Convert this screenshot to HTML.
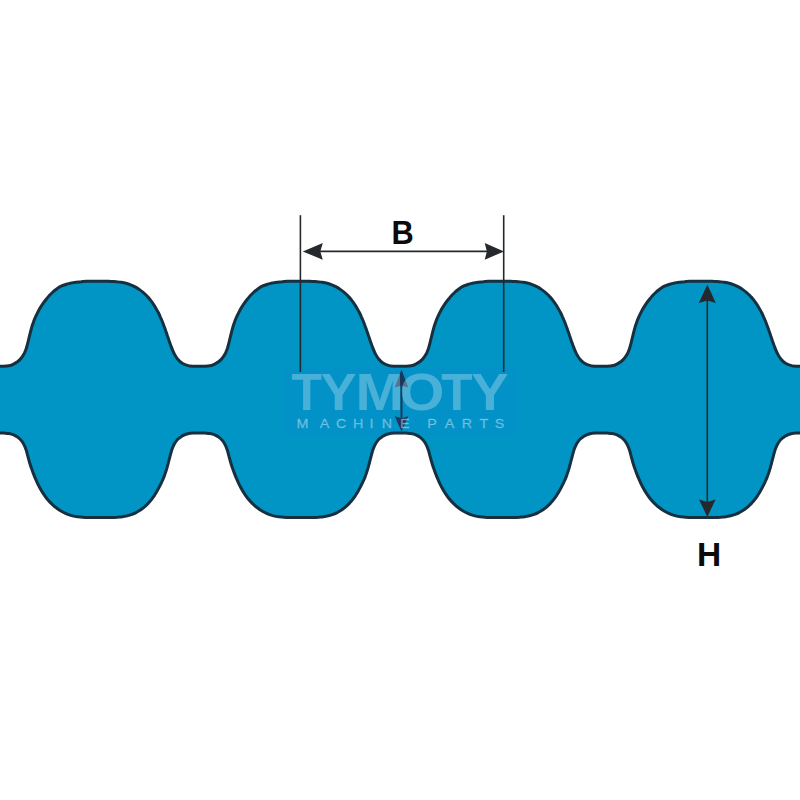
<!DOCTYPE html>
<html lang="en">
<head>
<meta charset="utf-8">
<title>Double sided timing belt - B / H dimensions</title>
<style>
html,body{margin:0;padding:0;background:#fff;}
body{width:800px;height:800px;overflow:hidden;position:relative;font-family:"Liberation Sans",sans-serif;}
svg{position:absolute;left:0;top:0;display:block;}
.lbl{font-family:"Liberation Sans",sans-serif;font-weight:700;fill:#0b0b0d;}
.wm1{font-family:"Liberation Sans",sans-serif;font-weight:700;fill:#e6f4ff;}
.wm2{font-family:"Liberation Sans",sans-serif;font-weight:400;fill:#e6f4ff;}
</style>
</head>
<body>
<svg width="800" height="800" viewBox="0 0 800 800">
<rect width="800" height="800" fill="#ffffff"/>
<!-- belt body -->
<path d="M-28.6 349.9C-28.3 350.7 -27.3 353.0 -26.5 354.4C-25.7 355.9 -24.9 357.3 -23.8 358.6C-22.8 359.9 -21.6 361.2 -20.3 362.2C-19.0 363.2 -17.5 364.0 -16.0 364.7C-14.5 365.3 -12.8 365.8 -11.2 366.1C-9.6 366.3 -7.9 366.2 -6.2 366.2C-4.5 366.3 -2.8 366.2 -1.1 366.2C0.6 366.2 2.3 366.3 3.9 366.2C5.6 366.2 7.3 366.2 8.9 365.8C10.5 365.5 12.1 364.9 13.6 364.1C15.1 363.4 16.5 362.5 17.8 361.5C19.1 360.4 20.3 359.2 21.3 358.0C22.4 356.7 23.3 355.2 24.1 353.8C24.8 352.3 25.4 350.7 26.0 349.2C26.6 347.6 27.0 346.0 27.4 344.4C27.9 342.8 28.2 341.1 28.6 339.5C29.0 337.9 29.4 336.3 29.8 334.7C30.2 333.0 30.6 331.4 31.0 329.8C31.5 328.2 31.9 326.6 32.4 325.0C33.0 323.4 33.5 321.9 34.1 320.3C34.7 318.8 35.4 317.2 36.1 315.7C36.8 314.2 37.5 312.7 38.3 311.2C39.1 309.8 39.9 308.3 40.8 306.9C41.7 305.5 42.6 304.1 43.6 302.7C44.5 301.4 45.5 300.1 46.6 298.8C47.6 297.5 48.7 296.2 49.8 295.0C51.0 293.8 52.2 292.6 53.4 291.5C54.7 290.4 56.0 289.3 57.3 288.4C58.7 287.5 60.2 286.6 61.7 285.9C63.2 285.2 64.8 284.7 66.4 284.2C68.0 283.7 69.6 283.4 71.2 283.0C72.9 282.7 74.5 282.4 76.2 282.2C77.8 282.0 79.5 281.8 81.1 281.7C82.8 281.5 84.4 281.4 86.1 281.3C87.8 281.3 89.4 281.2 91.1 281.2C92.8 281.2 94.4 281.2 96.1 281.2C97.8 281.2 99.4 281.2 101.1 281.2C102.8 281.2 104.4 281.3 106.1 281.3C107.8 281.3 109.4 281.4 111.1 281.4C112.8 281.5 114.4 281.6 116.1 281.7C117.8 281.9 119.4 282.0 121.1 282.3C122.7 282.6 124.3 282.9 126.0 283.3C127.6 283.7 129.2 284.2 130.7 284.8C132.3 285.4 133.8 286.1 135.2 286.9C136.7 287.7 138.1 288.6 139.5 289.6C140.8 290.5 142.2 291.5 143.4 292.6C144.7 293.7 145.9 294.9 147.0 296.1C148.2 297.3 149.3 298.6 150.3 299.9C151.3 301.2 152.3 302.5 153.2 303.9C154.2 305.3 155.0 306.7 155.9 308.2C156.7 309.6 157.5 311.1 158.3 312.5C159.0 314.0 159.7 315.5 160.4 317.1C161.1 318.6 161.7 320.1 162.4 321.7C163.0 323.2 163.6 324.8 164.1 326.3C164.7 327.9 165.3 329.5 165.8 331.0C166.4 332.6 166.9 334.2 167.4 335.8C168.0 337.4 168.5 338.9 169.0 340.5C169.6 342.1 170.1 343.7 170.7 345.2C171.3 346.8 171.8 348.4 172.5 349.9C173.1 351.4 173.8 353.0 174.6 354.4C175.4 355.9 176.2 357.3 177.3 358.6C178.3 359.9 179.5 361.2 180.8 362.2C182.1 363.2 183.6 364.0 185.1 364.7C186.6 365.3 188.3 365.8 189.9 366.1C191.5 366.3 193.2 366.2 194.9 366.2C196.6 366.3 198.3 366.2 200.0 366.2C201.7 366.2 203.4 366.3 205.0 366.2C206.7 366.2 208.4 366.2 210.0 365.8C211.6 365.5 213.2 364.9 214.7 364.1C216.2 363.4 217.6 362.5 218.9 361.5C220.2 360.4 221.4 359.2 222.4 358.0C223.5 356.7 224.4 355.2 225.2 353.8C225.9 352.3 226.5 350.7 227.1 349.2C227.7 347.6 228.1 346.0 228.5 344.4C229.0 342.8 229.3 341.1 229.7 339.5C230.1 337.9 230.5 336.3 230.9 334.7C231.3 333.0 231.7 331.4 232.1 329.8C232.6 328.2 233.0 326.6 233.5 325.0C234.1 323.4 234.6 321.9 235.2 320.3C235.8 318.8 236.5 317.2 237.2 315.7C237.9 314.2 238.6 312.7 239.4 311.2C240.2 309.8 241.0 308.3 241.9 306.9C242.8 305.5 243.7 304.1 244.7 302.7C245.6 301.4 246.6 300.1 247.7 298.8C248.7 297.5 249.8 296.2 250.9 295.0C252.1 293.8 253.3 292.6 254.5 291.5C255.8 290.4 257.1 289.3 258.4 288.4C259.8 287.5 261.3 286.6 262.8 285.9C264.3 285.2 265.9 284.7 267.5 284.2C269.1 283.7 270.7 283.4 272.3 283.0C274.0 282.7 275.6 282.4 277.3 282.2C278.9 282.0 280.6 281.8 282.2 281.7C283.9 281.5 285.5 281.4 287.2 281.3C288.9 281.3 290.5 281.2 292.2 281.2C293.9 281.2 295.5 281.2 297.2 281.2C298.9 281.2 300.5 281.2 302.2 281.2C303.9 281.2 305.5 281.3 307.2 281.3C308.9 281.3 310.5 281.4 312.2 281.4C313.9 281.5 315.5 281.6 317.2 281.7C318.9 281.9 320.5 282.0 322.2 282.3C323.8 282.6 325.4 282.9 327.1 283.3C328.7 283.7 330.3 284.2 331.8 284.8C333.4 285.4 334.9 286.1 336.3 286.9C337.8 287.7 339.2 288.6 340.6 289.6C341.9 290.5 343.3 291.5 344.5 292.6C345.8 293.7 347.0 294.9 348.1 296.1C349.3 297.3 350.4 298.6 351.4 299.9C352.4 301.2 353.4 302.5 354.3 303.9C355.3 305.3 356.1 306.7 357.0 308.2C357.8 309.6 358.6 311.1 359.4 312.5C360.1 314.0 360.8 315.5 361.5 317.1C362.2 318.6 362.8 320.1 363.5 321.7C364.1 323.2 364.7 324.8 365.2 326.3C365.8 327.9 366.4 329.5 366.9 331.0C367.5 332.6 368.0 334.2 368.5 335.8C369.1 337.4 369.6 338.9 370.1 340.5C370.7 342.1 371.2 343.7 371.8 345.2C372.4 346.8 372.9 348.4 373.6 349.9C374.2 351.4 374.9 353.0 375.7 354.4C376.5 355.9 377.3 357.3 378.4 358.6C379.4 359.9 380.6 361.2 381.9 362.2C383.2 363.2 384.7 364.0 386.2 364.7C387.7 365.3 389.4 365.8 391.0 366.1C392.6 366.3 394.3 366.2 396.0 366.2C397.7 366.3 399.4 366.2 401.1 366.2C402.8 366.2 404.5 366.3 406.1 366.2C407.8 366.2 409.5 366.2 411.1 365.8C412.7 365.5 414.3 364.9 415.8 364.1C417.3 363.4 418.7 362.5 420.0 361.5C421.3 360.4 422.5 359.2 423.5 358.0C424.6 356.7 425.5 355.2 426.3 353.8C427.0 352.3 427.6 350.7 428.2 349.2C428.8 347.6 429.2 346.0 429.6 344.4C430.1 342.8 430.4 341.1 430.8 339.5C431.2 337.9 431.6 336.3 432.0 334.7C432.4 333.0 432.8 331.4 433.2 329.8C433.7 328.2 434.1 326.6 434.6 325.0C435.2 323.4 435.7 321.9 436.3 320.3C436.9 318.8 437.6 317.2 438.3 315.7C439.0 314.2 439.7 312.7 440.5 311.2C441.3 309.8 442.1 308.3 443.0 306.9C443.9 305.5 444.8 304.1 445.8 302.7C446.7 301.4 447.7 300.1 448.8 298.8C449.8 297.5 450.9 296.2 452.0 295.0C453.2 293.8 454.4 292.6 455.6 291.5C456.9 290.4 458.2 289.3 459.5 288.4C460.9 287.5 462.4 286.6 463.9 285.9C465.4 285.2 467.0 284.7 468.6 284.2C470.2 283.7 471.8 283.4 473.4 283.0C475.1 282.7 476.7 282.4 478.4 282.2C480.0 282.0 481.7 281.8 483.3 281.7C485.0 281.5 486.6 281.4 488.3 281.3C490.0 281.3 491.6 281.2 493.3 281.2C495.0 281.2 496.6 281.2 498.3 281.2C500.0 281.2 501.6 281.2 503.3 281.2C505.0 281.2 506.6 281.3 508.3 281.3C510.0 281.3 511.6 281.4 513.3 281.4C515.0 281.5 516.6 281.6 518.3 281.7C520.0 281.9 521.6 282.0 523.3 282.3C524.9 282.6 526.5 282.9 528.2 283.3C529.8 283.7 531.4 284.2 532.9 284.8C534.5 285.4 536.0 286.1 537.4 286.9C538.9 287.7 540.3 288.6 541.7 289.6C543.0 290.5 544.4 291.5 545.6 292.6C546.9 293.7 548.1 294.9 549.2 296.1C550.4 297.3 551.5 298.6 552.5 299.9C553.5 301.2 554.5 302.5 555.4 303.9C556.4 305.3 557.2 306.7 558.1 308.2C558.9 309.6 559.7 311.1 560.5 312.5C561.2 314.0 561.9 315.5 562.6 317.1C563.3 318.6 563.9 320.1 564.6 321.7C565.2 323.2 565.8 324.8 566.3 326.3C566.9 327.9 567.5 329.5 568.0 331.0C568.6 332.6 569.1 334.2 569.6 335.8C570.2 337.4 570.7 338.9 571.2 340.5C571.8 342.1 572.3 343.7 572.9 345.2C573.5 346.8 574.0 348.4 574.7 349.9C575.3 351.4 576.0 353.0 576.8 354.4C577.6 355.9 578.4 357.3 579.5 358.6C580.5 359.9 581.7 361.2 583.0 362.2C584.3 363.2 585.8 364.0 587.3 364.7C588.8 365.3 590.5 365.8 592.1 366.1C593.7 366.3 595.4 366.2 597.1 366.2C598.8 366.3 600.5 366.2 602.2 366.2C603.9 366.2 605.6 366.3 607.2 366.2C608.9 366.2 610.6 366.2 612.2 365.8C613.8 365.5 615.4 364.9 616.9 364.1C618.4 363.4 619.8 362.5 621.1 361.5C622.4 360.4 623.6 359.2 624.6 358.0C625.7 356.7 626.6 355.2 627.4 353.8C628.1 352.3 628.7 350.7 629.3 349.2C629.9 347.6 630.3 346.0 630.7 344.4C631.2 342.8 631.5 341.1 631.9 339.5C632.3 337.9 632.7 336.3 633.1 334.7C633.5 333.0 633.9 331.4 634.3 329.8C634.8 328.2 635.2 326.6 635.7 325.0C636.3 323.4 636.8 321.9 637.4 320.3C638.0 318.8 638.7 317.2 639.4 315.7C640.1 314.2 640.8 312.7 641.6 311.2C642.4 309.8 643.2 308.3 644.1 306.9C645.0 305.5 645.9 304.1 646.9 302.7C647.8 301.4 648.8 300.1 649.9 298.8C650.9 297.5 652.0 296.2 653.1 295.0C654.3 293.8 655.5 292.6 656.7 291.5C658.0 290.4 659.3 289.3 660.6 288.4C662.0 287.5 663.5 286.6 665.0 285.9C666.5 285.2 668.1 284.7 669.7 284.2C671.3 283.7 672.9 283.4 674.5 283.0C676.2 282.7 677.8 282.4 679.5 282.2C681.1 282.0 682.8 281.8 684.4 281.7C686.1 281.5 687.7 281.4 689.4 281.3C691.1 281.3 692.7 281.2 694.4 281.2C696.1 281.2 697.7 281.2 699.4 281.2C701.1 281.2 702.7 281.2 704.4 281.2C706.1 281.2 707.7 281.3 709.4 281.3C711.1 281.3 712.7 281.4 714.4 281.4C716.1 281.5 717.7 281.6 719.4 281.7C721.1 281.9 722.7 282.0 724.4 282.3C726.0 282.6 727.6 282.9 729.3 283.3C730.9 283.7 732.5 284.2 734.0 284.8C735.6 285.4 737.1 286.1 738.5 286.9C740.0 287.7 741.4 288.6 742.8 289.6C744.1 290.5 745.5 291.5 746.7 292.6C748.0 293.7 749.2 294.9 750.3 296.1C751.5 297.3 752.6 298.6 753.6 299.9C754.6 301.2 755.6 302.5 756.5 303.9C757.5 305.3 758.3 306.7 759.2 308.2C760.0 309.6 760.8 311.1 761.6 312.5C762.3 314.0 763.0 315.5 763.7 317.1C764.4 318.6 765.0 320.1 765.7 321.7C766.3 323.2 766.9 324.8 767.4 326.3C768.0 327.9 768.6 329.5 769.1 331.0C769.7 332.6 770.2 334.2 770.7 335.8C771.3 337.4 771.8 338.9 772.3 340.5C772.9 342.1 773.4 343.7 774.0 345.2C774.6 346.8 775.1 348.4 775.8 349.9C776.4 351.4 777.1 353.0 777.9 354.4C778.7 355.9 779.5 357.3 780.6 358.6C781.6 359.9 782.8 361.2 784.1 362.2C785.4 363.2 786.9 364.0 788.4 364.7C789.9 365.3 791.6 365.8 793.2 366.1C794.8 366.3 796.5 366.2 798.2 366.2C799.9 366.3 801.6 366.2 803.3 366.2C805.0 366.2 806.7 366.3 808.3 366.2C810.0 366.2 811.7 366.2 813.3 365.8C814.9 365.5 816.5 364.9 818.0 364.1C819.5 363.4 820.9 362.5 822.2 361.5C823.5 360.4 824.7 359.2 825.7 358.0C826.8 356.7 828.0 354.5 828.5 353.8L828.6 445.1C828.2 444.4 827.0 442.2 826.0 440.9C824.9 439.6 823.7 438.4 822.4 437.4C821.1 436.4 819.6 435.6 818.1 434.9C816.6 434.2 814.9 433.8 813.3 433.5C811.7 433.2 810.0 433.2 808.3 433.1C806.7 433.0 805.0 433.1 803.3 433.1C801.6 433.1 799.9 433.1 798.3 433.1C796.6 433.1 794.9 433.0 793.3 433.3C791.7 433.5 790.0 434.0 788.5 434.5C786.9 435.1 785.4 435.9 784.1 436.9C782.7 437.8 781.4 438.9 780.3 440.1C779.2 441.4 778.3 442.8 777.5 444.2C776.7 445.7 776.1 447.3 775.5 448.8C774.9 450.4 774.5 452.0 774.0 453.6C773.6 455.2 773.2 456.8 772.8 458.4C772.3 460.0 771.9 461.7 771.5 463.3C771.1 464.9 770.6 466.5 770.2 468.1C769.7 469.7 769.2 471.3 768.7 472.9C768.2 474.4 767.6 476.0 767.0 477.6C766.4 479.1 765.7 480.6 765.0 482.2C764.3 483.7 763.6 485.2 762.8 486.6C762.0 488.1 761.2 489.6 760.4 491.0C759.6 492.4 758.7 493.9 757.8 495.3C756.9 496.6 755.9 498.0 754.9 499.3C753.9 500.6 752.8 501.9 751.7 503.1C750.5 504.3 749.3 505.5 748.1 506.6C746.8 507.7 745.5 508.7 744.1 509.7C742.7 510.6 741.3 511.5 739.8 512.3C738.4 513.0 736.9 513.7 735.3 514.3C733.7 514.9 732.1 515.4 730.5 515.8C728.9 516.2 727.3 516.5 725.6 516.7C724.0 517.0 722.3 517.1 720.7 517.3C719.0 517.4 717.3 517.5 715.7 517.5C714.0 517.6 712.3 517.6 710.7 517.6C709.0 517.6 707.3 517.6 705.7 517.6C704.0 517.6 702.3 517.6 700.7 517.6C699.0 517.6 697.3 517.6 695.7 517.6C694.0 517.6 692.3 517.6 690.7 517.5C689.0 517.5 687.4 517.4 685.7 517.3C684.0 517.2 682.4 517.0 680.7 516.8C679.1 516.6 677.4 516.3 675.8 515.9C674.2 515.5 672.6 515.0 671.1 514.4C669.5 513.8 668.0 513.1 666.5 512.3C665.0 511.5 663.6 510.7 662.2 509.8C660.8 508.8 659.5 507.8 658.2 506.8C656.9 505.7 655.7 504.6 654.5 503.4C653.3 502.2 652.2 501.0 651.1 499.7C650.1 498.5 649.0 497.1 648.1 495.8C647.1 494.4 646.2 493.0 645.3 491.6C644.4 490.2 643.6 488.8 642.8 487.3C642.1 485.8 641.3 484.3 640.6 482.8C639.9 481.3 639.2 479.8 638.6 478.3C637.9 476.7 637.3 475.2 636.7 473.6C636.1 472.1 635.5 470.5 635.0 468.9C634.4 467.4 633.9 465.8 633.4 464.2C632.9 462.6 632.4 461.0 632.0 459.4C631.5 457.8 631.2 456.2 630.7 454.6C630.3 453.0 629.9 451.3 629.4 449.8C628.8 448.2 628.3 446.6 627.5 445.1C626.8 443.6 625.9 442.2 624.9 440.9C623.8 439.6 622.6 438.4 621.3 437.4C620.0 436.4 618.5 435.6 617.0 434.9C615.5 434.2 613.8 433.8 612.2 433.5C610.6 433.2 608.9 433.2 607.2 433.1C605.6 433.0 603.9 433.1 602.2 433.1C600.5 433.1 598.8 433.1 597.2 433.1C595.5 433.1 593.8 433.0 592.2 433.3C590.6 433.5 588.9 434.0 587.4 434.5C585.8 435.1 584.3 435.9 583.0 436.9C581.6 437.8 580.3 438.9 579.2 440.1C578.1 441.4 577.2 442.8 576.4 444.2C575.6 445.7 575.0 447.3 574.4 448.8C573.8 450.4 573.4 452.0 572.9 453.6C572.5 455.2 572.1 456.8 571.7 458.4C571.2 460.0 570.8 461.7 570.4 463.3C570.0 464.9 569.5 466.5 569.1 468.1C568.6 469.7 568.1 471.3 567.6 472.9C567.1 474.4 566.5 476.0 565.9 477.6C565.3 479.1 564.6 480.6 563.9 482.2C563.2 483.7 562.5 485.2 561.7 486.6C560.9 488.1 560.1 489.6 559.3 491.0C558.5 492.4 557.6 493.9 556.7 495.3C555.8 496.6 554.8 498.0 553.8 499.3C552.8 500.6 551.7 501.9 550.6 503.1C549.4 504.3 548.2 505.5 547.0 506.6C545.7 507.7 544.4 508.7 543.0 509.7C541.6 510.6 540.2 511.5 538.7 512.3C537.3 513.0 535.8 513.7 534.2 514.3C532.6 514.9 531.0 515.4 529.4 515.8C527.8 516.2 526.2 516.5 524.5 516.7C522.9 517.0 521.2 517.1 519.6 517.3C517.9 517.4 516.2 517.5 514.6 517.5C512.9 517.6 511.2 517.6 509.6 517.6C507.9 517.6 506.2 517.6 504.6 517.6C502.9 517.6 501.2 517.6 499.6 517.6C497.9 517.6 496.2 517.6 494.6 517.6C492.9 517.6 491.2 517.6 489.6 517.5C487.9 517.5 486.3 517.4 484.6 517.3C482.9 517.2 481.3 517.0 479.6 516.8C478.0 516.6 476.3 516.3 474.7 515.9C473.1 515.5 471.5 515.0 470.0 514.4C468.4 513.8 466.9 513.1 465.4 512.3C463.9 511.5 462.5 510.7 461.1 509.8C459.7 508.8 458.4 507.8 457.1 506.8C455.8 505.7 454.6 504.6 453.4 503.4C452.2 502.2 451.1 501.0 450.0 499.7C449.0 498.5 447.9 497.1 447.0 495.8C446.0 494.4 445.1 493.0 444.2 491.6C443.3 490.2 442.5 488.8 441.7 487.3C441.0 485.8 440.2 484.3 439.5 482.8C438.8 481.3 438.1 479.8 437.5 478.3C436.8 476.7 436.2 475.2 435.6 473.6C435.0 472.1 434.4 470.5 433.9 468.9C433.3 467.4 432.8 465.8 432.3 464.2C431.8 462.6 431.3 461.0 430.9 459.4C430.4 457.8 430.1 456.2 429.6 454.6C429.2 453.0 428.8 451.3 428.3 449.8C427.7 448.2 427.2 446.6 426.4 445.1C425.7 443.6 424.8 442.2 423.8 440.9C422.7 439.6 421.5 438.4 420.2 437.4C418.9 436.4 417.4 435.6 415.9 434.9C414.4 434.2 412.7 433.8 411.1 433.5C409.5 433.2 407.8 433.2 406.1 433.1C404.5 433.0 402.8 433.1 401.1 433.1C399.4 433.1 397.7 433.1 396.1 433.1C394.4 433.1 392.7 433.0 391.1 433.3C389.5 433.5 387.8 434.0 386.3 434.5C384.7 435.1 383.2 435.9 381.9 436.9C380.5 437.8 379.2 438.9 378.1 440.1C377.0 441.4 376.1 442.8 375.3 444.2C374.5 445.7 373.9 447.3 373.3 448.8C372.7 450.4 372.3 452.0 371.8 453.6C371.4 455.2 371.0 456.8 370.6 458.4C370.1 460.0 369.7 461.7 369.3 463.3C368.9 464.9 368.4 466.5 368.0 468.1C367.5 469.7 367.0 471.3 366.5 472.9C366.0 474.4 365.4 476.0 364.8 477.6C364.2 479.1 363.5 480.6 362.8 482.2C362.1 483.7 361.4 485.2 360.6 486.6C359.8 488.1 359.0 489.6 358.2 491.0C357.4 492.4 356.5 493.9 355.6 495.3C354.7 496.6 353.7 498.0 352.7 499.3C351.7 500.6 350.6 501.9 349.5 503.1C348.3 504.3 347.1 505.5 345.9 506.6C344.6 507.7 343.3 508.7 341.9 509.7C340.5 510.6 339.1 511.5 337.6 512.3C336.2 513.0 334.7 513.7 333.1 514.3C331.5 514.9 329.9 515.4 328.3 515.8C326.7 516.2 325.1 516.5 323.4 516.7C321.8 517.0 320.1 517.1 318.5 517.3C316.8 517.4 315.1 517.5 313.5 517.5C311.8 517.6 310.1 517.6 308.5 517.6C306.8 517.6 305.1 517.6 303.5 517.6C301.8 517.6 300.1 517.6 298.5 517.6C296.8 517.6 295.1 517.6 293.5 517.6C291.8 517.6 290.1 517.6 288.5 517.5C286.8 517.5 285.2 517.4 283.5 517.3C281.8 517.2 280.2 517.0 278.5 516.8C276.9 516.6 275.2 516.3 273.6 515.9C272.0 515.5 270.4 515.0 268.9 514.4C267.3 513.8 265.8 513.1 264.3 512.3C262.8 511.5 261.4 510.7 260.0 509.8C258.6 508.8 257.3 507.8 256.0 506.8C254.7 505.7 253.5 504.6 252.3 503.4C251.1 502.2 250.0 501.0 248.9 499.7C247.9 498.5 246.8 497.1 245.9 495.8C244.9 494.4 244.0 493.0 243.1 491.6C242.2 490.2 241.4 488.8 240.6 487.3C239.9 485.8 239.1 484.3 238.4 482.8C237.7 481.3 237.0 479.8 236.4 478.3C235.7 476.7 235.1 475.2 234.5 473.6C233.9 472.1 233.3 470.5 232.8 468.9C232.2 467.4 231.7 465.8 231.2 464.2C230.7 462.6 230.2 461.0 229.8 459.4C229.3 457.8 229.0 456.2 228.5 454.6C228.1 453.0 227.7 451.3 227.2 449.8C226.6 448.2 226.1 446.6 225.3 445.1C224.6 443.6 223.7 442.2 222.7 440.9C221.6 439.6 220.4 438.4 219.1 437.4C217.8 436.4 216.3 435.6 214.8 434.9C213.3 434.2 211.6 433.8 210.0 433.5C208.4 433.2 206.7 433.2 205.0 433.1C203.4 433.0 201.7 433.1 200.0 433.1C198.3 433.1 196.6 433.1 195.0 433.1C193.3 433.1 191.6 433.0 190.0 433.3C188.4 433.5 186.7 434.0 185.2 434.5C183.6 435.1 182.1 435.9 180.8 436.9C179.4 437.8 178.1 438.9 177.0 440.1C175.9 441.4 175.0 442.8 174.2 444.2C173.4 445.7 172.8 447.3 172.2 448.8C171.6 450.4 171.2 452.0 170.7 453.6C170.3 455.2 169.9 456.8 169.5 458.4C169.0 460.0 168.6 461.7 168.2 463.3C167.8 464.9 167.3 466.5 166.9 468.1C166.4 469.7 165.9 471.3 165.4 472.9C164.9 474.4 164.3 476.0 163.7 477.6C163.1 479.1 162.4 480.6 161.7 482.2C161.0 483.7 160.3 485.2 159.5 486.6C158.7 488.1 157.9 489.6 157.1 491.0C156.3 492.4 155.4 493.9 154.5 495.3C153.6 496.6 152.6 498.0 151.6 499.3C150.6 500.6 149.5 501.9 148.4 503.1C147.2 504.3 146.0 505.5 144.8 506.6C143.5 507.7 142.2 508.7 140.8 509.7C139.4 510.6 138.0 511.5 136.5 512.3C135.1 513.0 133.6 513.7 132.0 514.3C130.4 514.9 128.8 515.4 127.2 515.8C125.6 516.2 124.0 516.5 122.3 516.7C120.7 517.0 119.0 517.1 117.4 517.3C115.7 517.4 114.0 517.5 112.4 517.5C110.7 517.6 109.0 517.6 107.4 517.6C105.7 517.6 104.0 517.6 102.4 517.6C100.7 517.6 99.0 517.6 97.4 517.6C95.7 517.6 94.0 517.6 92.4 517.6C90.7 517.6 89.0 517.6 87.4 517.5C85.7 517.5 84.1 517.4 82.4 517.3C80.7 517.2 79.1 517.0 77.4 516.8C75.8 516.6 74.1 516.3 72.5 515.9C70.9 515.5 69.3 515.0 67.8 514.4C66.2 513.8 64.7 513.1 63.2 512.3C61.7 511.5 60.3 510.7 58.9 509.8C57.5 508.8 56.2 507.8 54.9 506.8C53.6 505.7 52.4 504.6 51.2 503.4C50.0 502.2 48.9 501.0 47.8 499.7C46.8 498.5 45.7 497.1 44.8 495.8C43.8 494.4 42.9 493.0 42.0 491.6C41.1 490.2 40.3 488.8 39.5 487.3C38.8 485.8 38.0 484.3 37.3 482.8C36.6 481.3 35.9 479.8 35.3 478.3C34.6 476.7 34.0 475.2 33.4 473.6C32.8 472.1 32.2 470.5 31.7 468.9C31.1 467.4 30.6 465.8 30.1 464.2C29.6 462.6 29.1 461.0 28.7 459.4C28.2 457.8 27.9 456.2 27.4 454.6C27.0 453.0 26.6 451.3 26.1 449.8C25.5 448.2 25.0 446.6 24.2 445.1C23.5 443.6 22.6 442.2 21.6 440.9C20.5 439.6 19.3 438.4 18.0 437.4C16.7 436.4 15.2 435.6 13.7 434.9C12.2 434.2 10.5 433.8 8.9 433.5C7.3 433.2 5.6 433.2 3.9 433.1C2.3 433.0 0.6 433.1 -1.1 433.1C-2.8 433.1 -4.5 433.1 -6.1 433.1C-7.8 433.1 -9.5 433.0 -11.1 433.3C-12.7 433.5 -14.4 434.0 -15.9 434.5C-17.5 435.1 -19.0 435.9 -20.3 436.9C-21.7 437.8 -23.0 438.9 -24.1 440.1C-25.2 441.4 -26.1 442.8 -26.9 444.2C-27.7 445.7 -28.6 448.1 -28.9 448.8Z" fill="#0095c4" stroke="none"/>
<path d="M-28.6 349.9C-28.3 350.7 -27.3 353.0 -26.5 354.4C-25.7 355.9 -24.9 357.3 -23.8 358.6C-22.8 359.9 -21.6 361.2 -20.3 362.2C-19.0 363.2 -17.5 364.0 -16.0 364.7C-14.5 365.3 -12.8 365.8 -11.2 366.1C-9.6 366.3 -7.9 366.2 -6.2 366.2C-4.5 366.3 -2.8 366.2 -1.1 366.2C0.6 366.2 2.3 366.3 3.9 366.2C5.6 366.2 7.3 366.2 8.9 365.8C10.5 365.5 12.1 364.9 13.6 364.1C15.1 363.4 16.5 362.5 17.8 361.5C19.1 360.4 20.3 359.2 21.3 358.0C22.4 356.7 23.3 355.2 24.1 353.8C24.8 352.3 25.4 350.7 26.0 349.2C26.6 347.6 27.0 346.0 27.4 344.4C27.9 342.8 28.2 341.1 28.6 339.5C29.0 337.9 29.4 336.3 29.8 334.7C30.2 333.0 30.6 331.4 31.0 329.8C31.5 328.2 31.9 326.6 32.4 325.0C33.0 323.4 33.5 321.9 34.1 320.3C34.7 318.8 35.4 317.2 36.1 315.7C36.8 314.2 37.5 312.7 38.3 311.2C39.1 309.8 39.9 308.3 40.8 306.9C41.7 305.5 42.6 304.1 43.6 302.7C44.5 301.4 45.5 300.1 46.6 298.8C47.6 297.5 48.7 296.2 49.8 295.0C51.0 293.8 52.2 292.6 53.4 291.5C54.7 290.4 56.0 289.3 57.3 288.4C58.7 287.5 60.2 286.6 61.7 285.9C63.2 285.2 64.8 284.7 66.4 284.2C68.0 283.7 69.6 283.4 71.2 283.0C72.9 282.7 74.5 282.4 76.2 282.2C77.8 282.0 79.5 281.8 81.1 281.7C82.8 281.5 84.4 281.4 86.1 281.3C87.8 281.3 89.4 281.2 91.1 281.2C92.8 281.2 94.4 281.2 96.1 281.2C97.8 281.2 99.4 281.2 101.1 281.2C102.8 281.2 104.4 281.3 106.1 281.3C107.8 281.3 109.4 281.4 111.1 281.4C112.8 281.5 114.4 281.6 116.1 281.7C117.8 281.9 119.4 282.0 121.1 282.3C122.7 282.6 124.3 282.9 126.0 283.3C127.6 283.7 129.2 284.2 130.7 284.8C132.3 285.4 133.8 286.1 135.2 286.9C136.7 287.7 138.1 288.6 139.5 289.6C140.8 290.5 142.2 291.5 143.4 292.6C144.7 293.7 145.9 294.9 147.0 296.1C148.2 297.3 149.3 298.6 150.3 299.9C151.3 301.2 152.3 302.5 153.2 303.9C154.2 305.3 155.0 306.7 155.9 308.2C156.7 309.6 157.5 311.1 158.3 312.5C159.0 314.0 159.7 315.5 160.4 317.1C161.1 318.6 161.7 320.1 162.4 321.7C163.0 323.2 163.6 324.8 164.1 326.3C164.7 327.9 165.3 329.5 165.8 331.0C166.4 332.6 166.9 334.2 167.4 335.8C168.0 337.4 168.5 338.9 169.0 340.5C169.6 342.1 170.1 343.7 170.7 345.2C171.3 346.8 171.8 348.4 172.5 349.9C173.1 351.4 173.8 353.0 174.6 354.4C175.4 355.9 176.2 357.3 177.3 358.6C178.3 359.9 179.5 361.2 180.8 362.2C182.1 363.2 183.6 364.0 185.1 364.7C186.6 365.3 188.3 365.8 189.9 366.1C191.5 366.3 193.2 366.2 194.9 366.2C196.6 366.3 198.3 366.2 200.0 366.2C201.7 366.2 203.4 366.3 205.0 366.2C206.7 366.2 208.4 366.2 210.0 365.8C211.6 365.5 213.2 364.9 214.7 364.1C216.2 363.4 217.6 362.5 218.9 361.5C220.2 360.4 221.4 359.2 222.4 358.0C223.5 356.7 224.4 355.2 225.2 353.8C225.9 352.3 226.5 350.7 227.1 349.2C227.7 347.6 228.1 346.0 228.5 344.4C229.0 342.8 229.3 341.1 229.7 339.5C230.1 337.9 230.5 336.3 230.9 334.7C231.3 333.0 231.7 331.4 232.1 329.8C232.6 328.2 233.0 326.6 233.5 325.0C234.1 323.4 234.6 321.9 235.2 320.3C235.8 318.8 236.5 317.2 237.2 315.7C237.9 314.2 238.6 312.7 239.4 311.2C240.2 309.8 241.0 308.3 241.9 306.9C242.8 305.5 243.7 304.1 244.7 302.7C245.6 301.4 246.6 300.1 247.7 298.8C248.7 297.5 249.8 296.2 250.9 295.0C252.1 293.8 253.3 292.6 254.5 291.5C255.8 290.4 257.1 289.3 258.4 288.4C259.8 287.5 261.3 286.6 262.8 285.9C264.3 285.2 265.9 284.7 267.5 284.2C269.1 283.7 270.7 283.4 272.3 283.0C274.0 282.7 275.6 282.4 277.3 282.2C278.9 282.0 280.6 281.8 282.2 281.7C283.9 281.5 285.5 281.4 287.2 281.3C288.9 281.3 290.5 281.2 292.2 281.2C293.9 281.2 295.5 281.2 297.2 281.2C298.9 281.2 300.5 281.2 302.2 281.2C303.9 281.2 305.5 281.3 307.2 281.3C308.9 281.3 310.5 281.4 312.2 281.4C313.9 281.5 315.5 281.6 317.2 281.7C318.9 281.9 320.5 282.0 322.2 282.3C323.8 282.6 325.4 282.9 327.1 283.3C328.7 283.7 330.3 284.2 331.8 284.8C333.4 285.4 334.9 286.1 336.3 286.9C337.8 287.7 339.2 288.6 340.6 289.6C341.9 290.5 343.3 291.5 344.5 292.6C345.8 293.7 347.0 294.9 348.1 296.1C349.3 297.3 350.4 298.6 351.4 299.9C352.4 301.2 353.4 302.5 354.3 303.9C355.3 305.3 356.1 306.7 357.0 308.2C357.8 309.6 358.6 311.1 359.4 312.5C360.1 314.0 360.8 315.5 361.5 317.1C362.2 318.6 362.8 320.1 363.5 321.7C364.1 323.2 364.7 324.8 365.2 326.3C365.8 327.9 366.4 329.5 366.9 331.0C367.5 332.6 368.0 334.2 368.5 335.8C369.1 337.4 369.6 338.9 370.1 340.5C370.7 342.1 371.2 343.7 371.8 345.2C372.4 346.8 372.9 348.4 373.6 349.9C374.2 351.4 374.9 353.0 375.7 354.4C376.5 355.9 377.3 357.3 378.4 358.6C379.4 359.9 380.6 361.2 381.9 362.2C383.2 363.2 384.7 364.0 386.2 364.7C387.7 365.3 389.4 365.8 391.0 366.1C392.6 366.3 394.3 366.2 396.0 366.2C397.7 366.3 399.4 366.2 401.1 366.2C402.8 366.2 404.5 366.3 406.1 366.2C407.8 366.2 409.5 366.2 411.1 365.8C412.7 365.5 414.3 364.9 415.8 364.1C417.3 363.4 418.7 362.5 420.0 361.5C421.3 360.4 422.5 359.2 423.5 358.0C424.6 356.7 425.5 355.2 426.3 353.8C427.0 352.3 427.6 350.7 428.2 349.2C428.8 347.6 429.2 346.0 429.6 344.4C430.1 342.8 430.4 341.1 430.8 339.5C431.2 337.9 431.6 336.3 432.0 334.7C432.4 333.0 432.8 331.4 433.2 329.8C433.7 328.2 434.1 326.6 434.6 325.0C435.2 323.4 435.7 321.9 436.3 320.3C436.9 318.8 437.6 317.2 438.3 315.7C439.0 314.2 439.7 312.7 440.5 311.2C441.3 309.8 442.1 308.3 443.0 306.9C443.9 305.5 444.8 304.1 445.8 302.7C446.7 301.4 447.7 300.1 448.8 298.8C449.8 297.5 450.9 296.2 452.0 295.0C453.2 293.8 454.4 292.6 455.6 291.5C456.9 290.4 458.2 289.3 459.5 288.4C460.9 287.5 462.4 286.6 463.9 285.9C465.4 285.2 467.0 284.7 468.6 284.2C470.2 283.7 471.8 283.4 473.4 283.0C475.1 282.7 476.7 282.4 478.4 282.2C480.0 282.0 481.7 281.8 483.3 281.7C485.0 281.5 486.6 281.4 488.3 281.3C490.0 281.3 491.6 281.2 493.3 281.2C495.0 281.2 496.6 281.2 498.3 281.2C500.0 281.2 501.6 281.2 503.3 281.2C505.0 281.2 506.6 281.3 508.3 281.3C510.0 281.3 511.6 281.4 513.3 281.4C515.0 281.5 516.6 281.6 518.3 281.7C520.0 281.9 521.6 282.0 523.3 282.3C524.9 282.6 526.5 282.9 528.2 283.3C529.8 283.7 531.4 284.2 532.9 284.8C534.5 285.4 536.0 286.1 537.4 286.9C538.9 287.7 540.3 288.6 541.7 289.6C543.0 290.5 544.4 291.5 545.6 292.6C546.9 293.7 548.1 294.9 549.2 296.1C550.4 297.3 551.5 298.6 552.5 299.9C553.5 301.2 554.5 302.5 555.4 303.9C556.4 305.3 557.2 306.7 558.1 308.2C558.9 309.6 559.7 311.1 560.5 312.5C561.2 314.0 561.9 315.5 562.6 317.1C563.3 318.6 563.9 320.1 564.6 321.7C565.2 323.2 565.8 324.8 566.3 326.3C566.9 327.9 567.5 329.5 568.0 331.0C568.6 332.6 569.1 334.2 569.6 335.8C570.2 337.4 570.7 338.9 571.2 340.5C571.8 342.1 572.3 343.7 572.9 345.2C573.5 346.8 574.0 348.4 574.7 349.9C575.3 351.4 576.0 353.0 576.8 354.4C577.6 355.9 578.4 357.3 579.5 358.6C580.5 359.9 581.7 361.2 583.0 362.2C584.3 363.2 585.8 364.0 587.3 364.7C588.8 365.3 590.5 365.8 592.1 366.1C593.7 366.3 595.4 366.2 597.1 366.2C598.8 366.3 600.5 366.2 602.2 366.2C603.9 366.2 605.6 366.3 607.2 366.2C608.9 366.2 610.6 366.2 612.2 365.8C613.8 365.5 615.4 364.9 616.9 364.1C618.4 363.4 619.8 362.5 621.1 361.5C622.4 360.4 623.6 359.2 624.6 358.0C625.7 356.7 626.6 355.2 627.4 353.8C628.1 352.3 628.7 350.7 629.3 349.2C629.9 347.6 630.3 346.0 630.7 344.4C631.2 342.8 631.5 341.1 631.9 339.5C632.3 337.9 632.7 336.3 633.1 334.7C633.5 333.0 633.9 331.4 634.3 329.8C634.8 328.2 635.2 326.6 635.7 325.0C636.3 323.4 636.8 321.9 637.4 320.3C638.0 318.8 638.7 317.2 639.4 315.7C640.1 314.2 640.8 312.7 641.6 311.2C642.4 309.8 643.2 308.3 644.1 306.9C645.0 305.5 645.9 304.1 646.9 302.7C647.8 301.4 648.8 300.1 649.9 298.8C650.9 297.5 652.0 296.2 653.1 295.0C654.3 293.8 655.5 292.6 656.7 291.5C658.0 290.4 659.3 289.3 660.6 288.4C662.0 287.5 663.5 286.6 665.0 285.9C666.5 285.2 668.1 284.7 669.7 284.2C671.3 283.7 672.9 283.4 674.5 283.0C676.2 282.7 677.8 282.4 679.5 282.2C681.1 282.0 682.8 281.8 684.4 281.7C686.1 281.5 687.7 281.4 689.4 281.3C691.1 281.3 692.7 281.2 694.4 281.2C696.1 281.2 697.7 281.2 699.4 281.2C701.1 281.2 702.7 281.2 704.4 281.2C706.1 281.2 707.7 281.3 709.4 281.3C711.1 281.3 712.7 281.4 714.4 281.4C716.1 281.5 717.7 281.6 719.4 281.7C721.1 281.9 722.7 282.0 724.4 282.3C726.0 282.6 727.6 282.9 729.3 283.3C730.9 283.7 732.5 284.2 734.0 284.8C735.6 285.4 737.1 286.1 738.5 286.9C740.0 287.7 741.4 288.6 742.8 289.6C744.1 290.5 745.5 291.5 746.7 292.6C748.0 293.7 749.2 294.9 750.3 296.1C751.5 297.3 752.6 298.6 753.6 299.9C754.6 301.2 755.6 302.5 756.5 303.9C757.5 305.3 758.3 306.7 759.2 308.2C760.0 309.6 760.8 311.1 761.6 312.5C762.3 314.0 763.0 315.5 763.7 317.1C764.4 318.6 765.0 320.1 765.7 321.7C766.3 323.2 766.9 324.8 767.4 326.3C768.0 327.9 768.6 329.5 769.1 331.0C769.7 332.6 770.2 334.2 770.7 335.8C771.3 337.4 771.8 338.9 772.3 340.5C772.9 342.1 773.4 343.7 774.0 345.2C774.6 346.8 775.1 348.4 775.8 349.9C776.4 351.4 777.1 353.0 777.9 354.4C778.7 355.9 779.5 357.3 780.6 358.6C781.6 359.9 782.8 361.2 784.1 362.2C785.4 363.2 786.9 364.0 788.4 364.7C789.9 365.3 791.6 365.8 793.2 366.1C794.8 366.3 796.5 366.2 798.2 366.2C799.9 366.3 801.6 366.2 803.3 366.2C805.0 366.2 806.7 366.3 808.3 366.2C810.0 366.2 811.7 366.2 813.3 365.8C814.9 365.5 816.5 364.9 818.0 364.1C819.5 363.4 820.9 362.5 822.2 361.5C823.5 360.4 824.7 359.2 825.7 358.0C826.8 356.7 828.0 354.5 828.5 353.8" fill="none" stroke="#16303f" stroke-width="3" stroke-linejoin="round"/>
<path d="M-28.9 448.8C-28.6 448.1 -27.7 445.7 -26.9 444.2C-26.1 442.8 -25.2 441.4 -24.1 440.1C-23.0 438.9 -21.7 437.8 -20.3 436.9C-19.0 435.9 -17.5 435.1 -15.9 434.5C-14.4 434.0 -12.7 433.5 -11.1 433.3C-9.5 433.0 -7.8 433.1 -6.1 433.1C-4.5 433.1 -2.8 433.1 -1.1 433.1C0.6 433.1 2.3 433.0 3.9 433.1C5.6 433.2 7.3 433.2 8.9 433.5C10.5 433.8 12.2 434.2 13.7 434.9C15.2 435.6 16.7 436.4 18.0 437.4C19.3 438.4 20.5 439.6 21.6 440.9C22.6 442.2 23.5 443.6 24.2 445.1C25.0 446.6 25.5 448.2 26.1 449.8C26.6 451.3 27.0 453.0 27.4 454.6C27.9 456.2 28.2 457.8 28.7 459.4C29.1 461.0 29.6 462.6 30.1 464.2C30.6 465.8 31.1 467.4 31.7 468.9C32.2 470.5 32.8 472.1 33.4 473.6C34.0 475.2 34.6 476.7 35.3 478.3C35.9 479.8 36.6 481.3 37.3 482.8C38.0 484.3 38.8 485.8 39.5 487.3C40.3 488.8 41.1 490.2 42.0 491.6C42.9 493.0 43.8 494.4 44.8 495.8C45.7 497.1 46.8 498.5 47.8 499.7C48.9 501.0 50.0 502.2 51.2 503.4C52.4 504.6 53.6 505.7 54.9 506.8C56.2 507.8 57.5 508.8 58.9 509.8C60.3 510.7 61.7 511.5 63.2 512.3C64.7 513.1 66.2 513.8 67.8 514.4C69.3 515.0 70.9 515.5 72.5 515.9C74.1 516.3 75.8 516.6 77.4 516.8C79.1 517.0 80.7 517.2 82.4 517.3C84.1 517.4 85.7 517.5 87.4 517.5C89.0 517.6 90.7 517.6 92.4 517.6C94.0 517.6 95.7 517.6 97.4 517.6C99.0 517.6 100.7 517.6 102.4 517.6C104.0 517.6 105.7 517.6 107.4 517.6C109.0 517.6 110.7 517.6 112.4 517.5C114.0 517.5 115.7 517.4 117.4 517.3C119.0 517.1 120.7 517.0 122.3 516.7C124.0 516.5 125.6 516.2 127.2 515.8C128.8 515.4 130.4 514.9 132.0 514.3C133.6 513.7 135.1 513.0 136.5 512.3C138.0 511.5 139.4 510.6 140.8 509.7C142.2 508.7 143.5 507.7 144.8 506.6C146.0 505.5 147.2 504.3 148.4 503.1C149.5 501.9 150.6 500.6 151.6 499.3C152.6 498.0 153.6 496.6 154.5 495.3C155.4 493.9 156.3 492.4 157.1 491.0C157.9 489.6 158.7 488.1 159.5 486.6C160.3 485.2 161.0 483.7 161.7 482.2C162.4 480.6 163.1 479.1 163.7 477.6C164.3 476.0 164.9 474.4 165.4 472.9C165.9 471.3 166.4 469.7 166.9 468.1C167.3 466.5 167.8 464.9 168.2 463.3C168.6 461.7 169.0 460.0 169.5 458.4C169.9 456.8 170.3 455.2 170.7 453.6C171.2 452.0 171.6 450.4 172.2 448.8C172.8 447.3 173.4 445.7 174.2 444.2C175.0 442.8 175.9 441.4 177.0 440.1C178.1 438.9 179.4 437.8 180.8 436.9C182.1 435.9 183.6 435.1 185.2 434.5C186.7 434.0 188.4 433.5 190.0 433.3C191.6 433.0 193.3 433.1 195.0 433.1C196.6 433.1 198.3 433.1 200.0 433.1C201.7 433.1 203.4 433.0 205.0 433.1C206.7 433.2 208.4 433.2 210.0 433.5C211.6 433.8 213.3 434.2 214.8 434.9C216.3 435.6 217.8 436.4 219.1 437.4C220.4 438.4 221.6 439.6 222.7 440.9C223.7 442.2 224.6 443.6 225.3 445.1C226.1 446.6 226.6 448.2 227.2 449.8C227.7 451.3 228.1 453.0 228.5 454.6C229.0 456.2 229.3 457.8 229.8 459.4C230.2 461.0 230.7 462.6 231.2 464.2C231.7 465.8 232.2 467.4 232.8 468.9C233.3 470.5 233.9 472.1 234.5 473.6C235.1 475.2 235.7 476.7 236.4 478.3C237.0 479.8 237.7 481.3 238.4 482.8C239.1 484.3 239.9 485.8 240.6 487.3C241.4 488.8 242.2 490.2 243.1 491.6C244.0 493.0 244.9 494.4 245.9 495.8C246.8 497.1 247.9 498.5 248.9 499.7C250.0 501.0 251.1 502.2 252.3 503.4C253.5 504.6 254.7 505.7 256.0 506.8C257.3 507.8 258.6 508.8 260.0 509.8C261.4 510.7 262.8 511.5 264.3 512.3C265.8 513.1 267.3 513.8 268.9 514.4C270.4 515.0 272.0 515.5 273.6 515.9C275.2 516.3 276.9 516.6 278.5 516.8C280.2 517.0 281.8 517.2 283.5 517.3C285.2 517.4 286.8 517.5 288.5 517.5C290.1 517.6 291.8 517.6 293.5 517.6C295.1 517.6 296.8 517.6 298.5 517.6C300.1 517.6 301.8 517.6 303.5 517.6C305.1 517.6 306.8 517.6 308.5 517.6C310.1 517.6 311.8 517.6 313.5 517.5C315.1 517.5 316.8 517.4 318.5 517.3C320.1 517.1 321.8 517.0 323.4 516.7C325.1 516.5 326.7 516.2 328.3 515.8C329.9 515.4 331.5 514.9 333.1 514.3C334.7 513.7 336.2 513.0 337.6 512.3C339.1 511.5 340.5 510.6 341.9 509.7C343.3 508.7 344.6 507.7 345.9 506.6C347.1 505.5 348.3 504.3 349.5 503.1C350.6 501.9 351.7 500.6 352.7 499.3C353.7 498.0 354.7 496.6 355.6 495.3C356.5 493.9 357.4 492.4 358.2 491.0C359.0 489.6 359.8 488.1 360.6 486.6C361.4 485.2 362.1 483.7 362.8 482.2C363.5 480.6 364.2 479.1 364.8 477.6C365.4 476.0 366.0 474.4 366.5 472.9C367.0 471.3 367.5 469.7 368.0 468.1C368.4 466.5 368.9 464.9 369.3 463.3C369.7 461.7 370.1 460.0 370.6 458.4C371.0 456.8 371.4 455.2 371.8 453.6C372.3 452.0 372.7 450.4 373.3 448.8C373.9 447.3 374.5 445.7 375.3 444.2C376.1 442.8 377.0 441.4 378.1 440.1C379.2 438.9 380.5 437.8 381.9 436.9C383.2 435.9 384.7 435.1 386.3 434.5C387.8 434.0 389.5 433.5 391.1 433.3C392.7 433.0 394.4 433.1 396.1 433.1C397.7 433.1 399.4 433.1 401.1 433.1C402.8 433.1 404.5 433.0 406.1 433.1C407.8 433.2 409.5 433.2 411.1 433.5C412.7 433.8 414.4 434.2 415.9 434.9C417.4 435.6 418.9 436.4 420.2 437.4C421.5 438.4 422.7 439.6 423.8 440.9C424.8 442.2 425.7 443.6 426.4 445.1C427.2 446.6 427.7 448.2 428.3 449.8C428.8 451.3 429.2 453.0 429.6 454.6C430.1 456.2 430.4 457.8 430.9 459.4C431.3 461.0 431.8 462.6 432.3 464.2C432.8 465.8 433.3 467.4 433.9 468.9C434.4 470.5 435.0 472.1 435.6 473.6C436.2 475.2 436.8 476.7 437.5 478.3C438.1 479.8 438.8 481.3 439.5 482.8C440.2 484.3 441.0 485.8 441.7 487.3C442.5 488.8 443.3 490.2 444.2 491.6C445.1 493.0 446.0 494.4 447.0 495.8C447.9 497.1 449.0 498.5 450.0 499.7C451.1 501.0 452.2 502.2 453.4 503.4C454.6 504.6 455.8 505.7 457.1 506.8C458.4 507.8 459.7 508.8 461.1 509.8C462.5 510.7 463.9 511.5 465.4 512.3C466.9 513.1 468.4 513.8 470.0 514.4C471.5 515.0 473.1 515.5 474.7 515.9C476.3 516.3 478.0 516.6 479.6 516.8C481.3 517.0 482.9 517.2 484.6 517.3C486.3 517.4 487.9 517.5 489.6 517.5C491.2 517.6 492.9 517.6 494.6 517.6C496.2 517.6 497.9 517.6 499.6 517.6C501.2 517.6 502.9 517.6 504.6 517.6C506.2 517.6 507.9 517.6 509.6 517.6C511.2 517.6 512.9 517.6 514.6 517.5C516.2 517.5 517.9 517.4 519.6 517.3C521.2 517.1 522.9 517.0 524.5 516.7C526.2 516.5 527.8 516.2 529.4 515.8C531.0 515.4 532.6 514.9 534.2 514.3C535.8 513.7 537.3 513.0 538.7 512.3C540.2 511.5 541.6 510.6 543.0 509.7C544.4 508.7 545.7 507.7 547.0 506.6C548.2 505.5 549.4 504.3 550.6 503.1C551.7 501.9 552.8 500.6 553.8 499.3C554.8 498.0 555.8 496.6 556.7 495.3C557.6 493.9 558.5 492.4 559.3 491.0C560.1 489.6 560.9 488.1 561.7 486.6C562.5 485.2 563.2 483.7 563.9 482.2C564.6 480.6 565.3 479.1 565.9 477.6C566.5 476.0 567.1 474.4 567.6 472.9C568.1 471.3 568.6 469.7 569.1 468.1C569.5 466.5 570.0 464.9 570.4 463.3C570.8 461.7 571.2 460.0 571.7 458.4C572.1 456.8 572.5 455.2 572.9 453.6C573.4 452.0 573.8 450.4 574.4 448.8C575.0 447.3 575.6 445.7 576.4 444.2C577.2 442.8 578.1 441.4 579.2 440.1C580.3 438.9 581.6 437.8 583.0 436.9C584.3 435.9 585.8 435.1 587.4 434.5C588.9 434.0 590.6 433.5 592.2 433.3C593.8 433.0 595.5 433.1 597.2 433.1C598.8 433.1 600.5 433.1 602.2 433.1C603.9 433.1 605.6 433.0 607.2 433.1C608.9 433.2 610.6 433.2 612.2 433.5C613.8 433.8 615.5 434.2 617.0 434.9C618.5 435.6 620.0 436.4 621.3 437.4C622.6 438.4 623.8 439.6 624.9 440.9C625.9 442.2 626.8 443.6 627.5 445.1C628.3 446.6 628.8 448.2 629.4 449.8C629.9 451.3 630.3 453.0 630.7 454.6C631.2 456.2 631.5 457.8 632.0 459.4C632.4 461.0 632.9 462.6 633.4 464.2C633.9 465.8 634.4 467.4 635.0 468.9C635.5 470.5 636.1 472.1 636.7 473.6C637.3 475.2 637.9 476.7 638.6 478.3C639.2 479.8 639.9 481.3 640.6 482.8C641.3 484.3 642.1 485.8 642.8 487.3C643.6 488.8 644.4 490.2 645.3 491.6C646.2 493.0 647.1 494.4 648.1 495.8C649.0 497.1 650.1 498.5 651.1 499.7C652.2 501.0 653.3 502.2 654.5 503.4C655.7 504.6 656.9 505.7 658.2 506.8C659.5 507.8 660.8 508.8 662.2 509.8C663.6 510.7 665.0 511.5 666.5 512.3C668.0 513.1 669.5 513.8 671.1 514.4C672.6 515.0 674.2 515.5 675.8 515.9C677.4 516.3 679.1 516.6 680.7 516.8C682.4 517.0 684.0 517.2 685.7 517.3C687.4 517.4 689.0 517.5 690.7 517.5C692.3 517.6 694.0 517.6 695.7 517.6C697.3 517.6 699.0 517.6 700.7 517.6C702.3 517.6 704.0 517.6 705.7 517.6C707.3 517.6 709.0 517.6 710.7 517.6C712.3 517.6 714.0 517.6 715.7 517.5C717.3 517.5 719.0 517.4 720.7 517.3C722.3 517.1 724.0 517.0 725.6 516.7C727.3 516.5 728.9 516.2 730.5 515.8C732.1 515.4 733.7 514.9 735.3 514.3C736.9 513.7 738.4 513.0 739.8 512.3C741.3 511.5 742.7 510.6 744.1 509.7C745.5 508.7 746.8 507.7 748.1 506.6C749.3 505.5 750.5 504.3 751.7 503.1C752.8 501.9 753.9 500.6 754.9 499.3C755.9 498.0 756.9 496.6 757.8 495.3C758.7 493.9 759.6 492.4 760.4 491.0C761.2 489.6 762.0 488.1 762.8 486.6C763.6 485.2 764.3 483.7 765.0 482.2C765.7 480.6 766.4 479.1 767.0 477.6C767.6 476.0 768.2 474.4 768.7 472.9C769.2 471.3 769.7 469.7 770.2 468.1C770.6 466.5 771.1 464.9 771.5 463.3C771.9 461.7 772.3 460.0 772.8 458.4C773.2 456.8 773.6 455.2 774.0 453.6C774.5 452.0 774.9 450.4 775.5 448.8C776.1 447.3 776.7 445.7 777.5 444.2C778.3 442.8 779.2 441.4 780.3 440.1C781.4 438.9 782.7 437.8 784.1 436.9C785.4 435.9 786.9 435.1 788.5 434.5C790.0 434.0 791.7 433.5 793.3 433.3C794.9 433.0 796.6 433.1 798.3 433.1C799.9 433.1 801.6 433.1 803.3 433.1C805.0 433.1 806.7 433.0 808.3 433.1C810.0 433.2 811.7 433.2 813.3 433.5C814.9 433.8 816.6 434.2 818.1 434.9C819.6 435.6 821.1 436.4 822.4 437.4C823.7 438.4 824.9 439.6 826.0 440.9C827.0 442.2 828.2 444.4 828.6 445.1" fill="none" stroke="#16303f" stroke-width="3" stroke-linejoin="round"/>

<!-- B dimension -->
<g stroke="#25282d" stroke-width="1.6" fill="none">
<line x1="300.4" y1="215.2" x2="300.4" y2="372"/>
<line x1="503.7" y1="215.2" x2="503.7" y2="372"/>
<line x1="319" y1="251.4" x2="488" y2="251.4"/>
</g>
<path d="M302.8 251.4L322.8 243L320.3 251.4L322.8 259.8Z" fill="#25282d"/>
<path d="M504 251.4L484.7 243L486.9 251.4L484.7 259.8Z" fill="#25282d"/>
<text class="lbl" transform="translate(402.7 243.9) scale(0.92 1)" x="0" y="0" font-size="33.5" text-anchor="middle">B</text>

<!-- H dimension -->
<line x1="707.3" y1="298" x2="707.3" y2="504" stroke="#25282d" stroke-width="1.6"/>
<path d="M707.3 284.4L698.8 303.1L707.3 300.6L715.8 303.1Z" fill="#25282d"/>
<path d="M707.3 516.9L699 499.4L707.3 501.9L715.6 499.4Z" fill="#25282d"/>
<text class="lbl" x="709.2" y="566" font-size="33.5" text-anchor="middle">H</text>

<!-- small thickness arrow -->
<line x1="401.5" y1="382" x2="401.5" y2="420" stroke="#1b3350" stroke-width="2"/>
<path d="M401.5 369.5L394.8 387.6L401.5 385.6L408.2 387.6Z" fill="#1b3350"/>
<path d="M401.5 431.6L394.8 416.3L401.5 418.3L408.2 416.3Z" fill="#1b3350"/>

<!-- watermark -->
<rect x="284.5" y="367" width="232" height="67.5" fill="#2a78f0" opacity="0.08"/>
<text class="wm1" y="410" font-size="52.3" fill-opacity="0.31"><tspan x="291.5" textLength="30.4" lengthAdjust="spacingAndGlyphs">T</tspan><tspan x="320.7" textLength="35.7" lengthAdjust="spacingAndGlyphs">Y</tspan><tspan x="355.6" textLength="48.4" lengthAdjust="spacingAndGlyphs">M</tspan><tspan x="399.5" textLength="44.9" lengthAdjust="spacingAndGlyphs">O</tspan><tspan x="441.3" textLength="31.2" lengthAdjust="spacingAndGlyphs">T</tspan><tspan x="471.2" textLength="37.3" lengthAdjust="spacingAndGlyphs">Y</tspan></text>
<text class="wm2" transform="translate(0 428.2) scale(1.15 1)" x="263.04 282.09 296.74 311.39 323.13 336.52 351.96 363.83 375.74 390.78 406.09 420.78 434.43" y="0" font-size="12.4" text-anchor="middle" fill-opacity="0.38" stroke="#e6f4ff" stroke-width="0.3" stroke-opacity="0.38">MACHINE PARTS</text>
</svg>
</body>
</html>
